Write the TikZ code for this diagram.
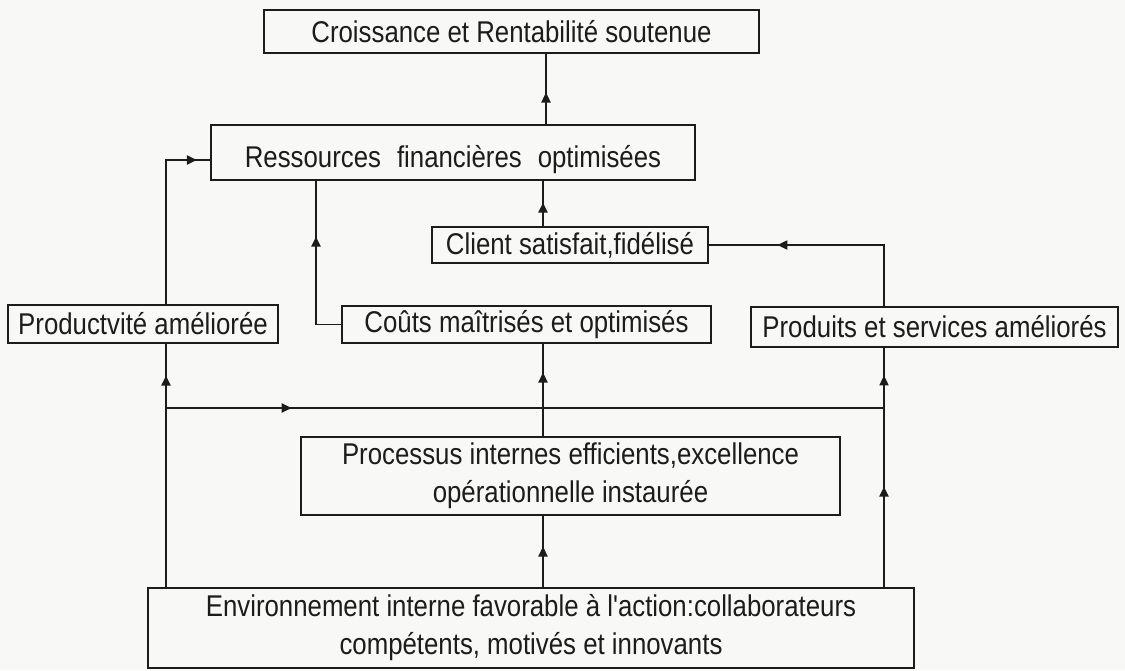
\documentclass[tikz,border=0pt]{standalone}
\usepackage{fontspec}
\setmainfont{Liberation Sans}[FakeStretch=0.86, Ligatures=TeXOff]
\usetikzlibrary{arrows.meta,decorations.markings,calc}
\definecolor{ink}{HTML}{1C1C1C}
\definecolor{paper}{HTML}{F8F8F6}
\tikzset{
  >={Triangle[length=5pt,width=4.6pt]},
  box/.style={draw=ink, line width=1pt, inner sep=0pt, align=center,
    text=ink, font=\fontsize{15}{19}\selectfont},
  wire/.style={draw=ink, line width=0.8pt},
  arr/.style={postaction={decorate,decoration={markings,
    mark=at position #1 with {\arrow{>}}}}},
  arrtwo/.style 2 args={postaction={decorate,decoration={markings,
    mark=at position #1 with {\arrow{>}},
    mark=at position #2 with {\arrow{>}}}}}
}
\begin{document}
\begin{tikzpicture}[x=0.5pt,y=-0.5pt]
  % page
  \fill[paper] (0,0) rectangle (1125,670);
  \useasboundingbox (0,0) rectangle (1125,670);

  % boxes
  \node[box, minimum width=247.5pt, minimum height=21.5pt] (top) at (511.5,31.5)
    {Croissance et Rentabilité soutenue};
  \node[box, minimum width=242pt, minimum height=27.5pt] (res) at (453,152.5)
    {\raisebox{-3.5pt}[\height][\depth]{Ressources\hspace{8pt}financières\hspace{8pt}optimisées}};
  \node[box, minimum width=138pt, minimum height=18pt] (client) at (570,245)
    {Client satisfait,fidélisé};
  \node[box, minimum width=135pt, minimum height=19pt] (prod) at (143,324)
    {Productvité améliorée};
  \node[box, minimum width=184.5pt, minimum height=18.5pt] (couts) at (526.5,324.5)
    {Coûts maîtrisés et optimisés};
  \node[box, minimum width=183.5pt, minimum height=20pt] (produits) at (934.5,327)
    {Produits et services améliorés};
  \node[box, minimum width=269.5pt, minimum height=39pt] (proc) at (570.5,476)
    {Processus internes efficients,excellence\\opérationnelle instaurée};
  \node[box, minimum width=383pt, minimum height=40pt] (env) at (531,628)
    {Environnement interne favorable à l'action:collaborateurs\\compétents, motivés et innovants};

  % guide lines for the connectors
  \coordinate (xl) at (166,0);
  \coordinate (xk) at (316,0);
  \coordinate (xc) at (543,0);
  \coordinate (xt) at (546,0);
  \coordinate (xr) at (884,0);
  \coordinate (yr) at (0,160);
  \coordinate (yh) at (0,408);
  \coordinate (jl) at (xl |- yh);
  \coordinate (jr) at (xr |- yh);

  % connectors
  \draw[wire, arr=0.45] (res.north -| xt) -- (top.south -| xt);
  \draw[wire, arr=0.52] (client.north -| xc) -- (res.south -| xc);
  \draw[wire, arr=0.67] (couts.west) -- (couts.west -| xk) -- (res.south -| xk);
  \draw[wire, arr=0.93] (prod.north -| xl) |- (res.west |- yr);
  \draw[wire, arr=0.71] (produits.north -| xr) |- (client.east);
  \draw[wire, arr=0.87] (env.north -| xl) -- (prod.south -| xl);
  \draw[wire, arrtwo={0.42}{0.885}] (env.north -| xr) -- (produits.south -| xr);
  \draw[wire, arr=0.175] (jl) -- (jr);
  \draw[wire, arr=0.69] (proc.north -| xc) -- (couts.south -| xc);
  \draw[wire, arr=0.57] (env.north -| xc) -- (proc.south -| xc);
\end{tikzpicture}
\end{document}
